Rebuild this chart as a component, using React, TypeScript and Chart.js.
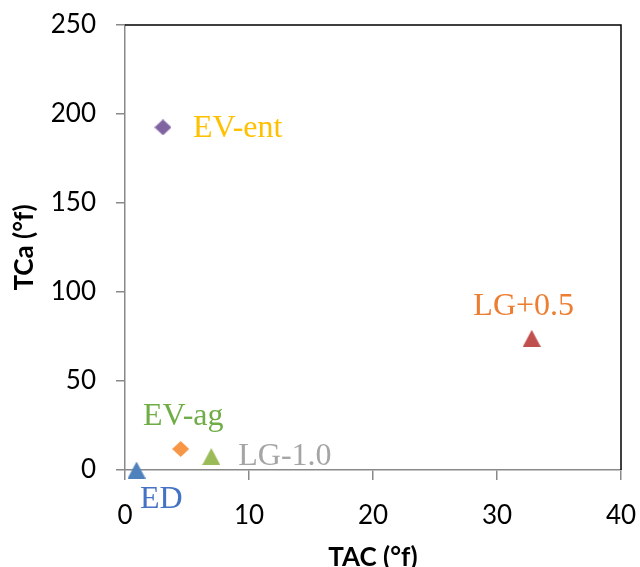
import React, { useEffect, useRef } from "react";
import { Chart, registerables } from "chart.js";

Chart.register(...registerables);

// ---- Data ----
const seriesNames = ["ED", "LG+0.5", "LG-1.0", "EV-ent", "EV-ag"];
const tacValues = [0.93, 32.8, 6.96, 3.06, 4.49];
const tcaValues = [0, 74.0, 7.6, 192.5, 11.8];
const xTicks = [0, 10, 20, 30, 40];
const yTicks = [0, 50, 100, 150, 200, 250];

// ---- Styles ----
const markerShapes = ["triangle", "triangle", "triangle", "diamond", "diamond"];
const markerColors = ["#4F81BD", "#C0504D", "#9BBB59", "#8064A2", "#F79646"];
const labelColors = ["#4472C4", "#ED7D31", "#A5A5A5", "#FFC000", "#70AD47"];
// [dx, dy(baseline), align]
const labelOffsets: [number, number, CanvasTextAlign][] = [
  [3.5, 38, "left"],
  [-8, -23, "center"],
  [27, 9, "left"],
  [30, 10, "left"],
  [2.6, -24, "center"],
];

const AXIS_GRAY = "#898989";

function makeMarker(shape: string, color: string): HTMLCanvasElement {
  const c = document.createElement("canvas");
  if (shape === "triangle") {
    c.width = 18;
    c.height = 17;
    const g = c.getContext("2d")!;
    g.fillStyle = color;
    g.beginPath();
    g.moveTo(9, 0);
    g.lineTo(18, 17);
    g.lineTo(0, 17);
    g.closePath();
    g.fill();
  } else {
    c.width = 17;
    c.height = 16;
    const g = c.getContext("2d")!;
    g.fillStyle = color;
    g.beginPath();
    g.moveTo(8.5, 0);
    g.lineTo(17, 8);
    g.lineTo(8.5, 16);
    g.lineTo(0, 8);
    g.closePath();
    g.fill();
  }
  return c;
}

const labelPlugin = {
  id: "pointLabels",
  afterDatasetsDraw(chart: any) {
    const ctx = chart.ctx;
    ctx.save();
    ctx.font = "32px 'Liberation Serif'";
    ctx.textBaseline = "alphabetic";
    chart.data.datasets.forEach((ds: any, i: number) => {
      const meta = chart.getDatasetMeta(i);
      const pt = meta.data[0];
      if (!pt) return;
      const [dx, dy, align] = labelOffsets[i];
      ctx.fillStyle = labelColors[i];
      ctx.textAlign = align;
      ctx.fillText(seriesNames[i], pt.x + dx, pt.y + dy);
    });
    ctx.restore();
  },
};

const framePlugin = {
  id: "frame",
  afterDraw(chart: any) {
    const { ctx, chartArea } = chart;
    const { left, top, right, bottom } = chartArea;
    ctx.save();
    ctx.strokeStyle = "#000";
    ctx.lineWidth = 1.5;
    ctx.beginPath();
    ctx.moveTo(left, top);
    ctx.lineTo(right, top);
    ctx.lineTo(right, bottom);
    ctx.stroke();
    ctx.restore();
  },
};

function zeroPad(s: any) {
  s.paddingTop = 0;
  s.paddingBottom = 0;
  s.paddingLeft = 0;
  s.paddingRight = 0;
}

export default function App() {
  const ref = useRef<HTMLCanvasElement | null>(null);
  useEffect(() => {
    if (!ref.current) return;
    const datasets = seriesNames.map((name, i) => ({
      label: name,
      data: [{ x: tacValues[i], y: tcaValues[i] }],
      pointStyle: makeMarker(markerShapes[i], markerColors[i]),
      backgroundColor: markerColors[i],
      borderColor: markerColors[i],
      clip: false as any,
    }));
    const chart = new Chart(ref.current, {
      type: "scatter",
      data: { datasets },
      plugins: [labelPlugin, framePlugin],
      options: {
        animation: false,
        responsive: false,
        devicePixelRatio: 1,
        layout: { padding: { left: 0, right: 19, top: 25, bottom: 0 } },
        plugins: { legend: { display: false }, tooltip: { enabled: false } },
        scales: {
          x: {
            type: "linear",
            min: xTicks[0],
            max: xTicks[xTicks.length - 1],
            afterBuildTicks: (s: any) => {
              s.ticks = xTicks.map((v) => ({ value: v }));
            },
            afterFit: (s: any) => {
              s.height = 97;
              zeroPad(s);
            },
            ticks: {
              color: "#000",
              font: { family: "Lato", size: 26 },
              padding: 20,
            },
            grid: {
              display: true,
              drawOnChartArea: false,
              drawTicks: true,
              tickLength: 10,
              color: AXIS_GRAY,
              lineWidth: 1.5,
            },
            border: { display: true, color: AXIS_GRAY, width: 1.5 },
            title: {
              display: true,
              text: "TAC (°f)",
              color: "#000",
              font: { family: "Lato", size: 26, weight: "bold" },
              padding: { top: 0, bottom: -6 },
            },
          },
          y: {
            type: "linear",
            min: yTicks[0],
            max: yTicks[yTicks.length - 1],
            afterBuildTicks: (s: any) => {
              s.ticks = yTicks.map((v) => ({ value: v }));
            },
            afterFit: (s: any) => {
              s.width = 125;
              zeroPad(s);
            },
            ticks: {
              color: "#000",
              font: { family: "Lato", size: 26 },
              padding: 20,
            },
            grid: {
              display: true,
              drawOnChartArea: false,
              drawTicks: true,
              tickLength: 9,
              color: AXIS_GRAY,
              lineWidth: 1.5,
            },
            border: { display: true, color: AXIS_GRAY, width: 1.5 },
            title: {
              display: true,
              text: "TCa (°f)",
              color: "#000",
              font: { family: "Lato", size: 26, weight: "bold" },
              padding: { top: 9, bottom: 0 },
            },
          },
        },
      } as any,
    });
    return () => chart.destroy();
  }, []);
  return (
    <div style={{ position: "absolute", left: 0, top: 0, width: 640, height: 567 }}>
      <canvas ref={ref} width={640} height={567} style={{ display: "block" }} />
    </div>
  );
}
